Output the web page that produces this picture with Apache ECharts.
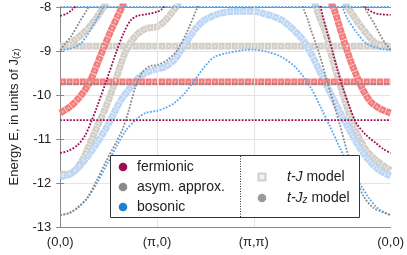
<!DOCTYPE html>
<html><head><meta charset="utf-8">
<script src="https://cdn.jsdelivr.net/npm/echarts@6/dist/echarts.min.js"></script>
<style>html,body{margin:0;padding:0;background:#fff}#c{width:407px;height:255px}</style>
</head><body><div id="c"></div>
<script>
// x in units of pi along path (0,0)->(pi,0)->(pi,pi)->(0,0)
const xTickValues = [0, 1, 2, 3.414];
const xTickLabels = ['(0,0)', '(π,0)', '(π,π)', '(0,0)'];
const yMin = -13, yMax = -8;

// t-Jz model (dotted)
const fermZ_flat = [[0,-10.57],[3.414,-10.57]];
const fermZ_1a = [[0,-11.32],[0.08,-11.27],[0.18,-11.14],[0.26,-10.91],[0.32,-10.61],[0.38,-10.27],[0.48,-9.66],[0.58,-9.02],[0.66,-8.57],[0.73,-8.30],[0.80,-8.20],[0.90,-8.16],[1.0,-8.11],[1.05,-8.05],[1.10,-7.9]];
const fermZ_1b = [[2.68,-7.9],[2.71,-8.18],[2.76,-8.59],[2.81,-8.98],[2.86,-9.39],[2.92,-9.84],[2.99,-10.27],[3.06,-10.64],[3.16,-10.91],[3.26,-11.09],[3.34,-11.23],[3.414,-11.32]];
const fermZ_2a = [[0,-8.20],[0.06,-8.16],[0.12,-8.07],[0.20,-7.9]];
const fermZ_2b = [[3.10,-7.9],[3.16,-8.02],[3.22,-8.11],[3.29,-8.16],[3.414,-8.18]];

const asymZ_flat = [[0,-9.75],[3.414,-9.75]];
const asymZ_1a = [[0,-12.73],[0.10,-12.68],[0.18,-12.55],[0.28,-12.34],[0.38,-11.93],[0.48,-11.48],[0.58,-11.07],[0.65,-10.75],[0.71,-10.34],[0.78,-9.80],[0.85,-9.48],[0.93,-9.34],[1.0,-9.32],[1.11,-9.20],[1.21,-8.98],[1.32,-8.52],[1.42,-8.0],[1.45,-7.9]];
const asymZ_1b = [[2.50,-7.9],[2.52,-8.07],[2.56,-8.30],[2.59,-8.52],[2.64,-8.82],[2.69,-9.16],[2.74,-9.55],[2.79,-9.93],[2.84,-10.30],[2.89,-10.68],[2.94,-11.09],[2.99,-11.48],[3.06,-11.93],[3.14,-12.32],[3.24,-12.57],[3.414,-12.73]];
const asymZ_2a = [[0,-8.98],[0.05,-8.84],[0.12,-8.64],[0.20,-8.34],[0.28,-8.05],[0.31,-7.9]];
const asymZ_2b = [[3.13,-7.9],[3.16,-8.07],[3.24,-8.36],[3.29,-8.57],[3.35,-8.80],[3.414,-8.98]];

const bosZ_flat = [[0,-8.0],[3.414,-8.0]];
const bosZ_1 = [[0,-12.73],[0.08,-12.69],[0.18,-12.57],[0.28,-12.34],[0.38,-12.0],[0.48,-11.59],[0.58,-11.18],[0.68,-10.80],[0.78,-10.57],[0.88,-10.41],[1.0,-10.36],[1.08,-10.30],[1.18,-10.18],[1.29,-9.95],[1.39,-9.66],[1.49,-9.36],[1.59,-9.14],[1.72,-9.05],[1.89,-8.98],[2.0,-8.97],[2.14,-9.02],[2.29,-9.14],[2.44,-9.39],[2.59,-9.84],[2.69,-10.27],[2.79,-10.73],[2.89,-11.20],[2.99,-11.64],[3.09,-12.0],[3.19,-12.34],[3.29,-12.59],[3.414,-12.73]];
const bosZ_2a = [[0,-8.98],[0.10,-8.95],[0.20,-8.85],[0.28,-8.64],[0.36,-8.34],[0.43,-8.07],[0.47,-7.9]];
const bosZ_2b = [[2.90,-7.9],[2.96,-8.23],[3.06,-8.57],[3.16,-8.82],[3.29,-8.94],[3.414,-8.98]];

// t-J model (squares)
const fermJ_flat = [[0,-9.70],[3.414,-9.70]];
const fermJ_1a = [[0,-10.41],[0.10,-10.27],[0.20,-10.05],[0.30,-9.73],[0.40,-9.20],[0.50,-8.66],[0.60,-8.18],[0.66,-7.9]];
const fermJ_1b = [[2.80,-7.9],[2.84,-8.11],[2.89,-8.48],[2.94,-8.82],[2.99,-9.16],[3.06,-9.55],[3.13,-9.89],[3.21,-10.16],[3.31,-10.32],[3.414,-10.41]];

const asymJ_flat = [[0,-8.89],[3.414,-8.89]];
const asymJ_1a = [[0,-11.80],[0.08,-11.80],[0.15,-11.72],[0.23,-11.48],[0.30,-11.14],[0.38,-10.73],[0.46,-10.34],[0.53,-9.93],[0.60,-9.48],[0.66,-9.09],[0.73,-8.80],[0.81,-8.59],[0.90,-8.48],[1.0,-8.45],[1.08,-8.32],[1.16,-8.11],[1.23,-7.9]];
const asymJ_1b = [[2.63,-7.9],[2.67,-8.18],[2.71,-8.39],[2.75,-8.64],[2.79,-9.0],[2.84,-9.39],[2.89,-9.75],[2.94,-10.11],[2.99,-10.45],[3.06,-10.85],[3.16,-11.25],[3.26,-11.48],[3.36,-11.64],[3.414,-11.72]];
const asymJ_2a = [[0,-8.91],[0.08,-8.86],[0.15,-8.75],[0.23,-8.61],[0.31,-8.43],[0.38,-8.23],[0.45,-8.0],[0.49,-7.9]];
const asymJ_2b = [[2.94,-7.9],[2.97,-8.0],[3.06,-8.30],[3.16,-8.59],[3.26,-8.82],[3.414,-8.91]];

const bosJ_1 = [[0,-11.86],[0.10,-11.80],[0.18,-11.66],[0.28,-11.41],[0.38,-11.09],[0.48,-10.73],[0.56,-10.39],[0.63,-10.11],[0.73,-9.82],[0.81,-9.61],[0.90,-9.48],[1.0,-9.41],[1.08,-9.36],[1.18,-9.20],[1.29,-8.84],[1.39,-8.52],[1.49,-8.30],[1.66,-8.14],[1.82,-8.10],[2.0,-8.10],[2.09,-8.14],[2.29,-8.30],[2.49,-8.70],[2.59,-9.05],[2.69,-9.50],[2.79,-9.95],[2.89,-10.39],[2.99,-10.80],[3.09,-11.18],[3.19,-11.48],[3.29,-11.70],[3.414,-11.84]];

const C = {
  fermZ: '#9c0c50', asymZ: '#8a8a8a', bosZ: '#58a8f0',
  fermJ: ['#f37c7c', '#f8b4b4'], asymJ: ['#d3cec7', '#ebe8e3'], bosJ: ['#bcd6f4', '#e1ecfa'],
  legF: '#9c0c50', legA: '#8a8a8a', legB: '#1f80d2'
};

function dotted(data, color, noClip) {
  return { type: 'line', data, smooth: 0.3, symbol: 'none', silent: true, animation: false, z: 5,
    clip: !noClip, lineStyle: { color, width: 1.8, type: [1.8, 1.5] } };
}
function squares(data, colors) {
  return [
    { type: 'line', data, smooth: 0.3, symbol: 'none', silent: true, animation: false, z: 3,
      lineStyle: { color: colors[0], width: 6.8, type: [6, 0.6] } },
    { type: 'line', data, smooth: 0.3, symbol: 'none', silent: true, animation: false, z: 4,
      lineStyle: { color: colors[1], width: 2, type: [1.8, 4.8], dashOffset: -2.1 } }
  ];
}

const series = [
  { type: 'line', data: [], silent: true, z: 1,
    markLine: { silent: true, symbol: 'none', label: { show: false }, animation: false,
      lineStyle: { color: '#e4e4e4', type: 'solid', width: 1 },
      data: [{ xAxis: xTickValues[1] }, { xAxis: xTickValues[2] }] } },
  ...squares(asymJ_flat, C.asymJ), ...squares(asymJ_1a, C.asymJ), ...squares(asymJ_1b, C.asymJ),
  ...squares(asymJ_2a, C.asymJ), ...squares(asymJ_2b, C.asymJ),
  ...squares(bosJ_1, C.bosJ),
  ...squares(fermJ_flat, C.fermJ), ...squares(fermJ_1a, C.fermJ), ...squares(fermJ_1b, C.fermJ),
  dotted(bosZ_flat, C.bosZ, true), dotted(bosZ_1, C.bosZ), dotted(bosZ_2a, C.bosZ), dotted(bosZ_2b, C.bosZ),
  dotted(asymZ_flat, C.asymZ), dotted(asymZ_1a, C.asymZ), dotted(asymZ_1b, C.asymZ),
  dotted(asymZ_2a, C.asymZ), dotted(asymZ_2b, C.asymZ),
  dotted(fermZ_flat, C.fermZ), dotted(fermZ_1a, C.fermZ), dotted(fermZ_1b, C.fermZ),
  dotted(fermZ_2a, C.fermZ), dotted(fermZ_2b, C.fermZ)
];

const FONT = 'Liberation Sans, Arial, Helvetica, sans-serif';
const LF = '14px ' + FONT;
const chart = echarts.init(document.getElementById('c'), null, { renderer: 'canvas' });
chart.setOption({
  animation: false,
  textStyle: { fontFamily: FONT },
  grid: { left: 52, right: 15, top: 7, bottom: 28, containLabel: false },
  xAxis: [
    { type: 'value', min: 0, max: 3.414, position: 'bottom',
      axisLine: { lineStyle: { color: '#888', width: 1 } },
      axisTick: { inside: true, length: 4, customValues: [xTickValues[1], xTickValues[2]], lineStyle: { color: '#888' } },
      axisLabel: { customValues: xTickValues, color: '#222', fontSize: 13, margin: 9,
        formatter: v => { const i = xTickValues.findIndex(t => Math.abs(t - v) < 1e-6); return i >= 0 ? xTickLabels[i] : ''; } },
      splitLine: { show: false } },
    { type: 'value', min: 0, max: 3.414, position: 'top',
      axisLine: { show: true, lineStyle: { color: '#888' } }, axisTick: { show: false },
      axisLabel: { show: false }, splitLine: { show: false } }
  ],
  yAxis: [
    { type: 'value', min: yMin, max: yMax, interval: 1, position: 'left',
      axisLine: { show: true, lineStyle: { color: '#888' } },
      axisTick: { show: true, inside: true, length: 4, lineStyle: { color: '#888' } },
      axisLabel: { color: '#222', fontSize: 13, margin: 9 },
      splitLine: { show: true, lineStyle: { color: '#e4e4e4', width: 1 } },
      name: 'Energy E, in units of J{s|(z)}', nameLocation: 'middle', nameGap: 37, nameRotate: 90,
      nameTextStyle: { color: '#222', fontSize: 13, fontFamily: FONT,
        rich: { s: { fontSize: 9, fontFamily: FONT, color: '#222', padding: [5, 0, 0, 0] } } } },
    { type: 'value', min: yMin, max: yMax, interval: 1, position: 'right',
      axisLine: { show: true, lineStyle: { color: '#888' } },
      axisTick: { show: true, inside: true, length: 4, lineStyle: { color: '#888' } },
      axisLabel: { show: false }, splitLine: { show: false } }
  ],
  series,
  graphic: [
    { type: 'rect', z: 100, shape: { x: 110.5, y: 155.5, width: 249, height: 62 },
      style: { fill: '#fff', stroke: '#333', lineWidth: 1 } },
    { type: 'line', z: 101, shape: { x1: 240.5, y1: 156, x2: 240.5, y2: 217 },
      style: { stroke: '#333', lineWidth: 1, lineDash: [1, 1.5] } },
    { type: 'circle', z: 101, shape: { cx: 123, cy: 167, r: 4.3 }, style: { fill: C.legF } },
    { type: 'circle', z: 101, shape: { cx: 123, cy: 187, r: 4.3 }, style: { fill: C.legA } },
    { type: 'circle', z: 101, shape: { cx: 123, cy: 207, r: 4.3 }, style: { fill: C.legB } },
    { type: 'text', z: 101, x: 137, y: 167, style: { text: 'fermionic', font: LF, fill: '#222', verticalAlign: 'middle' } },
    { type: 'text', z: 101, x: 137, y: 187, style: { text: 'asym. approx.', font: LF, fill: '#222', verticalAlign: 'middle' } },
    { type: 'text', z: 101, x: 137, y: 207, style: { text: 'bosonic', font: LF, fill: '#222', verticalAlign: 'middle' } },
    { type: 'rect', z: 101, shape: { x: 258.5, y: 173.5, width: 7, height: 7 },
      style: { fill: '#f3f1ee', stroke: C.asymJ[0], lineWidth: 2 } },
    { type: 'circle', z: 101, shape: { cx: 262, cy: 198, r: 4.3 }, style: { fill: '#9a9a9a' } },
    { type: 'text', z: 101, x: 287, y: 177, style: { text: '{i|t-J} model', font: LF, fill: '#222', verticalAlign: 'middle',
      rich: { i: { fontStyle: 'italic', fontSize: 14, fontFamily: FONT, fill: '#222' } } } },
    { type: 'text', z: 101, x: 287, y: 198, style: { text: '{i|t-J}{s|z} model', font: LF, fill: '#222', verticalAlign: 'middle',
      rich: { i: { fontStyle: 'italic', fontSize: 14, fontFamily: FONT, fill: '#222' },
              s: { fontStyle: 'italic', fontSize: 10, fontFamily: FONT, fill: '#222', padding: [5, 0, 0, 0] } } } }
  ]
});
</script></body></html>
